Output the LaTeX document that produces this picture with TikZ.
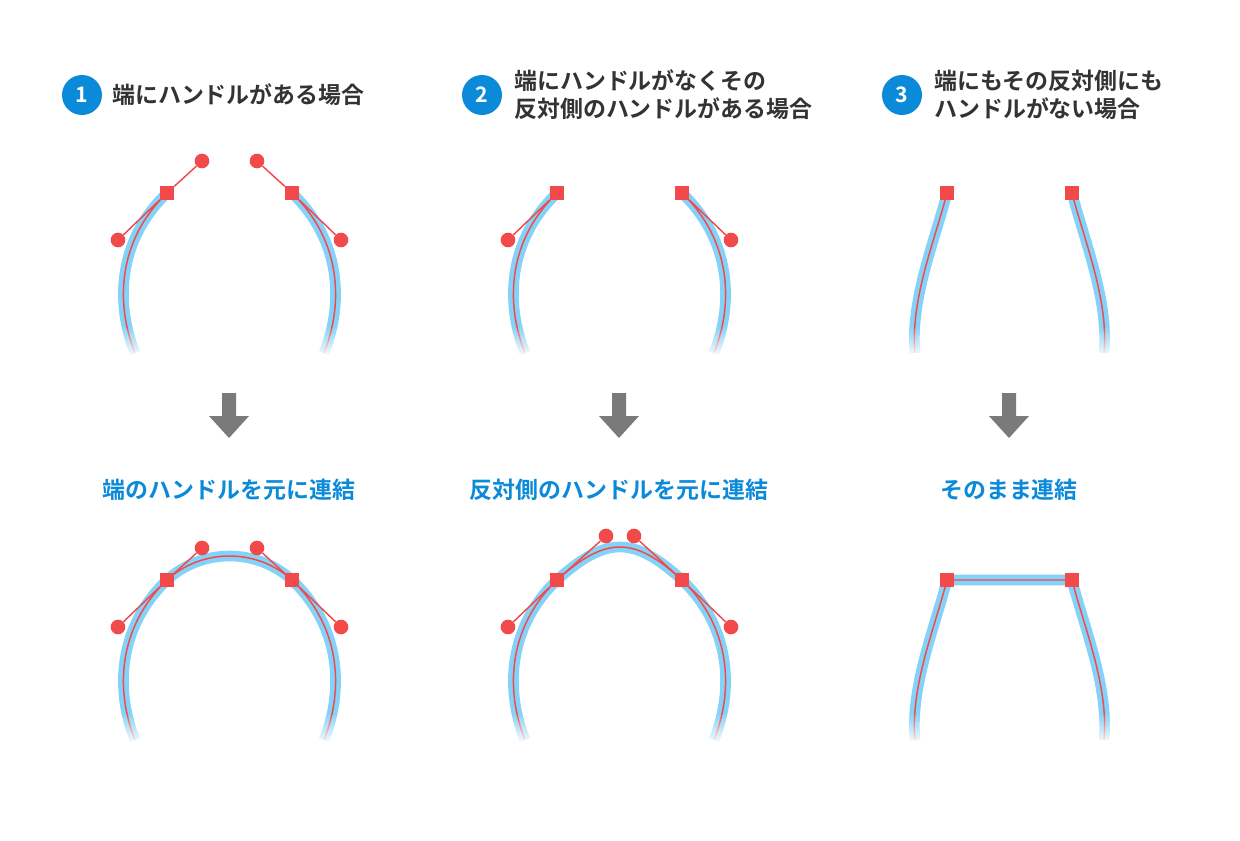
\documentclass[tikz,border=0pt]{standalone}
\usepackage{fontspec}
\newfontfamily\jp{Noto Sans CJK JP Bold}
\usetikzlibrary{fadings}
\definecolor{cblue}{HTML}{0A8AD8}
\definecolor{lblue}{HTML}{85D2F8}
\definecolor{hred}{HTML}{F24A4A}
\definecolor{dgray}{HTML}{333333}
\definecolor{agray}{HTML}{7A7A7A}
\tikzset{
 blu/.style={draw=lblue,line width=8pt},
 rd/.style={draw=hred,line width=1.1pt},
 hline/.style={draw=hred,line width=1.1pt},
 sq/.style={fill=hred,minimum size=10.5pt,inner sep=0pt,draw=none,rectangle},
 dot/.style={fill=hred,circle,minimum size=11pt,inner sep=0pt,draw=none},
 num/.style={fill=cblue,circle,minimum size=30pt,inner sep=0pt,text=white,font=\jp\fontsize{16}{16}\selectfont},
 head/.style={anchor=west,align=left,text=dgray,font=\jp\fontsize{17.2}{21}\selectfont,inner sep=0pt},
 lab/.style={text=cblue,font=\jp\fontsize{17.2}{20}\selectfont,inner sep=0pt},
 arr/.style={fill=agray,draw=none}
}
\newcommand\dc[1]{\draw[blu] #1; \draw[rd] #1;}
\newcommand\fadebox[2]{\fill[white,path fading=north] (#1,#2) rectangle +(240,32);}
\newcommand\downarr[1]{\fill[arr] (#1-7,393) -- (#1+7,393) -- (#1+7,416) -- (#1+20,416) -- (#1,438) -- (#1-20,416) -- (#1-7,416) -- cycle;}
\begin{document}
\begin{tikzpicture}[x=0.75pt,y=-0.75pt]
\useasboundingbox (0,0) rectangle (1240,840);
% headers
\node[num] (n1) at (82,95) {1};
\node[head] (h1) at (112,95) {端にハンドルがある場合};
\node[num] (n2) at (482,95) {2};
\node[head] (h2) at (514,95) {端にハンドルがなくその\\反対側のハンドルがある場合};
\node[num] (n3) at (902,95) {3};
\node[head] (h3) at (934,95) {端にもその反対側にも\\ハンドルがない場合};
% panel 1 top
\dc{(167,193) .. controls (118,240) and (115,303) .. (135,353)}
\dc{(292,193) .. controls (341,240) and (344,303) .. (324,353)}
\fadebox{110}{326}
\node[sq] (a1) at (167,193) {}; \node[sq] (a2) at (292,193) {};
\node[dot] (a3) at (118,240) {}; \node[dot] (a4) at (202,161) {};
\node[dot] (a5) at (257,161) {}; \node[dot] (a6) at (341,240) {};
\draw[hline] (a3)--(a1)--(a4); \draw[hline] (a5)--(a2)--(a6);
% panel 1 bottom
\dc{(135,740) .. controls (115,690) and (118,627) .. (167,580) .. controls (202,548) and (257,548) .. (292,580) .. controls (341,627) and (344,690) .. (324,740)}
\fadebox{110}{713}
\node[sq] (b1) at (167,580) {}; \node[sq] (b2) at (292,580) {};
\node[dot] (b3) at (118,627) {}; \node[dot] (b4) at (202,548) {};
\node[dot] (b5) at (257,548) {}; \node[dot] (b6) at (341,627) {};
\draw[hline] (b3)--(b1)--(b4); \draw[hline] (b5)--(b2)--(b6);
% panel 2 top
\dc{(557,193) .. controls (508,240) and (505,303) .. (525,353)}
\dc{(682,193) .. controls (731,240) and (734,303) .. (714,353)}
\fadebox{500}{326}
\node[sq] (c1) at (557,193) {}; \node[sq] (c2) at (682,193) {};
\node[dot] (c3) at (508,240) {}; \node[dot] (c6) at (731,240) {};
\draw[hline] (c3)--(c1); \draw[hline] (c2)--(c6);
% panel 2 bottom
\dc{(525,740) .. controls (505,690) and (508,627) .. (557,580) .. controls (606,536) and (634,536) .. (682,580) .. controls (731,627) and (734,690) .. (714,740)}
\fadebox{500}{713}
\node[sq] (d1) at (557,580) {}; \node[sq] (d2) at (682,580) {};
\node[dot] (d3) at (508,627) {}; \node[dot] (d4) at (606,536) {};
\node[dot] (d5) at (634,536) {}; \node[dot] (d6) at (731,627) {};
\draw[hline] (d3)--(d1)--(d4); \draw[hline] (d5)--(d2)--(d6);
% panel 3 top
\dc{(947,193) .. controls (935,240) and (910,300) .. (915,353)}
\dc{(1072,193) .. controls (1084,240) and (1109,300) .. (1104,353)}
\fadebox{890}{326}
\node[sq] (e1) at (947,193) {}; \node[sq] (e2) at (1072,193) {};
% panel 3 bottom
\dc{(915,740) .. controls (910,687) and (935,627) .. (947,580) -- (1072,580) .. controls (1084,627) and (1109,687) .. (1104,740)}
\fadebox{890}{713}
\node[sq] (f1) at (947,580) {}; \node[sq] (f2) at (1072,580) {};
% arrows
\downarr{229} \downarr{619} \downarr{1009}
\node[lab] (l1) at (229,490) {端のハンドルを元に連結};
\node[lab] (l2) at (619,490) {反対側のハンドルを元に連結};
\node[lab] (l3) at (1009,490) {そのまま連結};
\end{tikzpicture}
\end{document}
